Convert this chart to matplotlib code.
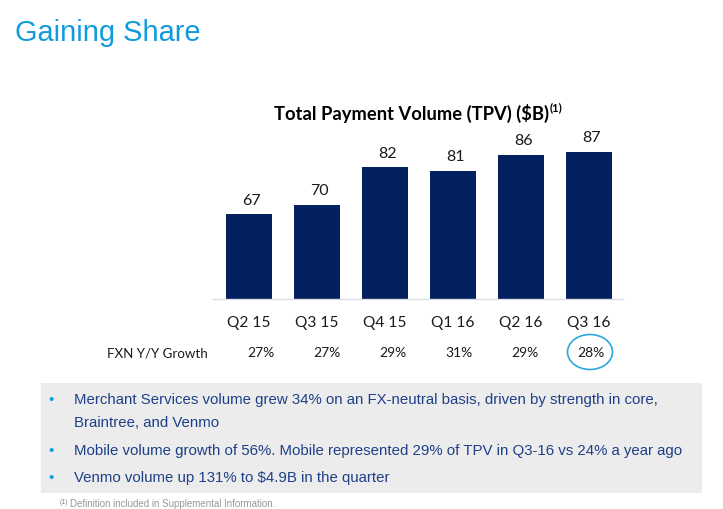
import matplotlib.pyplot as plt
from matplotlib.patches import Ellipse, Rectangle

quarters = ["Q2 15", "Q3 15", "Q4 15", "Q1 16", "Q2 16", "Q3 16"]
tpv = [67, 70, 82, 81, 86, 87]
fxn_growth = ["27%", "27%", "29%", "31%", "29%", "28%"]
bullets = [
    "Merchant Services volume grew 34% on an FX-neutral basis, driven by strength in core,\nBraintree, and Venmo",
    "Mobile volume growth of 56%. Mobile represented 29% of TPV in Q3-16 vs 24% a year ago",
    "Venmo volume up 131% to $4.9B in the quarter",
]

W, H = 723, 509
NAVY = "#03215F"
BLUE = "#0F9BDE"
BODY = "#1E4088"

fig = plt.figure(figsize=(W / 100, H / 100), dpi=100)

# page layer in pixel coordinates ==============================
page = fig.add_axes([0, 0, 1, 1])
page.set_xlim(0, W)
page.set_ylim(H, 0)
page.axis("off")

page.text(15, 33, "Gaining Share", family="Liberation Sans", fontsize=20.9, color=BLUE, va="center")

page.text(274, 113, "Total Payment Volume (TPV) ($B)", family="Lato", fontsize=13.2, fontweight="bold",
          color="black", va="center")
page.text(550, 108, "(1)", family="Lato", fontsize=8, fontweight="bold", color="black", va="center")

for i in range(6):
    page.text(249 + 68 * i, 323, quarters[i], family="Lato", fontsize=11.2, color="#1a1a1a",
              ha="center", va="center")
    page.text(261 + 66 * i, 353, fxn_growth[i], family="Lato", fontsize=10, color="#1a1a1a",
              ha="center", va="center")
page.text(107, 353, "FXN Y/Y Growth", family="Lato", fontsize=9.6, color="#1a1a1a", va="center")
page.add_patch(Ellipse((590, 352), 45, 35, fill=False, edgecolor="#29A9E0", linewidth=1.2))

# grey text box
page.add_patch(Rectangle((41, 383), 660.5, 110, facecolor="#ECECEC", edgecolor="none"))
bullet_y = [400, 451, 478]
for y, txt in zip(bullet_y, bullets):
    page.text(51, y, "•", family="Liberation Sans", fontsize=11, color=BLUE, ha="center", va="center")
    lines = txt.split("\n")
    for j, line in enumerate(lines):
        page.text(74, y + 23 * j, line, family="Liberation Sans", fontsize=10.85, color=BODY, va="center")

page.text(60, 502, "(1)", family="Liberation Sans", fontsize=5, color="#888888", va="center")
page.text(70, 504, "Definition included in Supplemental Information.", family="Liberation Sans",
          fontsize=7, color="#999999", va="center")

# bar chart ====================================================
ax = fig.add_axes([213 / W, 1 - 299 / H, 410 / W, 198 / H])
ax.patch.set_alpha(0)
x = list(range(len(tpv)))
bars = ax.bar(x, tpv, width=0.68, color=NAVY)
ax.set_xlim(-0.53, 5.5)
ax.set_ylim(40, 103.2)
for rect, v in zip(bars, tpv):
    ax.annotate(str(v), (rect.get_x() + rect.get_width() / 2, v), xytext=(1.5, 10), textcoords="offset points",
                family="Lato", fontsize=11.5, color="#1a1a1a", ha="center", va="center")
ax.set_xticks([])
ax.set_yticks([])
for side in ["top", "left", "right"]:
    ax.spines[side].set_visible(False)
ax.spines["bottom"].set_color("#DADDE3")
ax.spines["bottom"].set_linewidth(1)

plt.savefig("out.png", dpi=100)
plt.close()
